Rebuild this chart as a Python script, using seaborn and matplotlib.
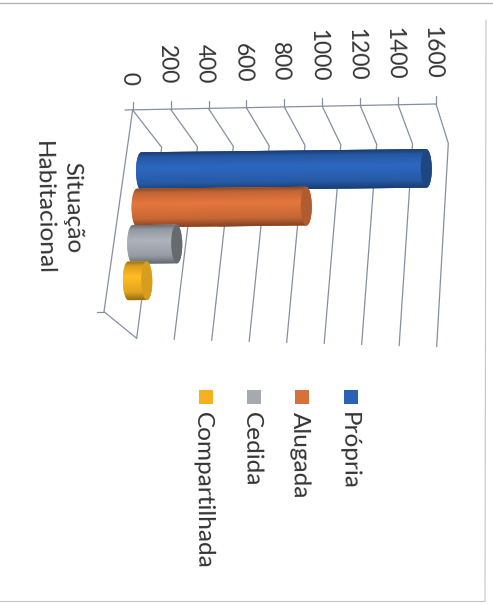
import numpy as np
import pandas as pd
import matplotlib
matplotlib.use("Agg")
import matplotlib.pyplot as plt
import seaborn as sns
from matplotlib.patches import Ellipse, Polygon, Rectangle
from matplotlib.transforms import Affine2D, ScaledTranslation, blended_transform_factory

# chart values
situacao = ["Própria", "Alugada", "Cedida", "Compartilhada"]
valores = [1560, 950, 290, 155]
cores = ["#2a62b5", "#d8703a", "#a4a9b2", "#f4b222"]
ticks = [0, 200, 400, 600, 800, 1000, 1200, 1400, 1600]
categoria = "Situação\nHabitacional"

W, H = 493, 605
X0, SCALE = 132.7, 0.1896   # pixel of value 0, pixels per unit
ROW0, ROW_STEP = 170, 36.4  # pixel of first bar, pixels between bars
LINE = "#8490a0"
TEXT = "#333333"
FONT = 17.6
CAP_DARK = [0.72, 0.82, 0.62, 0.88]

sns.set_theme(style="white")
plt.rcParams["font.family"] = ["Lato", "DejaVu Sans"]

fig = plt.figure(figsize=(W / 100, H / 100), dpi=100)
ax = fig.add_axes([0, 0, 1, 1])

df = pd.DataFrame({"situacao": situacao, "valor": valores})
sns.barplot(data=df, y="situacao", x="valor", hue="situacao", palette=cores,
            order=situacao, hue_order=situacao, dodge=False, width=1.06,
            legend=False, ax=ax)


def set_limits():
    ax.set_xlim(-X0 / SCALE, (W - X0) / SCALE)
    ax.set_ylim((H - ROW0) / ROW_STEP, -ROW0 / ROW_STEP)


set_limits()
ax.axis("off")

# pixel coords measured from the top left, like the scan
px = Affine2D().scale(1, -1).translate(0, H)
# the page was scanned slightly crooked
tilt = Affine2D().rotate_deg_around(280, 435, 0.65)
val_px = blended_transform_factory(ax.transData, px)
# rotated digits sit a bit to the right of their anchor
val_px = val_px + ScaledTranslation(-3 / 72, 0, fig.dpi_scale_trans)


def zx(z):
    return 90 + np.asarray(z) / 3


def zy(z):
    return 30 + np.asarray(z) / 3


def line(xs, ys, color=LINE, lw=0.9):
    ax.plot(xs, ys, color=color, lw=lw, transform=px, zorder=1,
            solid_capstyle="round")


# 3D frame and gridlines
for v in ticks:
    f = v / ticks[-1]
    ax_x = zx(128 + f * 910)
    ax_y = zy(240 - f * 18)
    back_x = zx(215 + f * 860)
    back_y = zy(352 - f * 12)
    low_x = zx(140 + f * 900)
    low_y = zy(925 + f * 25)
    line([ax_x, ax_x], [ax_y - 8, ax_y])
    line([ax_x, back_x, low_x], [ax_y, back_y, low_y])
    ax.text(v, 85 - f * 6, str(v), transform=val_px, rotation=-88.9,
            ha="center", va="bottom", fontsize=16.5, color=TEXT)

line(zx([105, 1038]), zy([240, 222]))
line(zx([128, 42, 140]), zy([240, 845, 925]))
line(zx([20, 42]), zy([845, 845]))

# cylinders on top of the bars seaborn drew
cap = 5.5 / SCALE
for r, p in enumerate(ax.patches):
    base = np.array(matplotlib.colors.to_rgb(cores[r]))
    value = p.get_width()
    y0, h = p.get_y(), p.get_height()
    left = (3.3 - 4.8 * r) / SCALE
    right = left + value
    trans = ax.transData + tilt

    p.set_x(left + cap)
    p.set_width(value - 2 * cap)
    p.set_transform(trans)
    p.set_zorder(3 + r)
    p.set_linewidth(0)

    t1 = np.linspace(-np.pi / 2, np.pi / 2, 40)
    t2 = t1 + np.pi
    xs = np.r_[right - cap + cap * np.cos(t1), left + cap + cap * np.cos(t2)]
    ys = np.r_[y0 + h / 2 + h / 2 * np.sin(t1), y0 + h / 2 + h / 2 * np.sin(t2)]
    shape = Polygon(np.c_[xs, ys], closed=True, transform=trans,
                    facecolor=base, edgecolor="none", zorder=3 + r)
    ax.add_patch(shape)

    # light falls off towards the edges of the cylinder
    pos = np.linspace(0, 1, 64)
    shade = np.interp(pos, [0, 0.12, 0.4, 0.8, 1], [0.62, 0.9, 1.06, 0.92, 0.62])
    img = np.clip(shade[:, None, None] * base[None, None, :], 0, 1)
    im = ax.imshow(img, extent=(left, right, y0 + h, y0), aspect="auto",
                   interpolation="bilinear", zorder=3 + r)
    im.set_transform(trans)
    im.set_clip_path(shape)

    end = Ellipse((right - cap, y0 + h / 2), 2 * cap, h, transform=trans,
                  facecolor=base * CAP_DARK[r], edgecolor="none", zorder=3.5 + r)
    ax.add_patch(end)

set_limits()

# category name
ax.text(58, 208, categoria, transform=px, rotation=-89, ha="center", va="center",
        ma="center", fontsize=FONT, color=TEXT, linespacing=1.5)

# legend
leg_x = [350.5, 302, 254, 205.5]
for name, c, lx in zip(situacao, cores, leg_x):
    ax.add_patch(Rectangle((lx - 7, 390), 14, 14, transform=px, facecolor=c,
                           edgecolor="none"))
    ax.text(lx - 2, 412, name, transform=px, rotation=-89.5, ha="center", va="top",
            fontsize=FONT, color=TEXT)

# edge of the scanned page
line([0, W], [3, 3], color="#b5b5b5", lw=1.0)
line([0, 485, 486], [601.5, 601.5, 20], color="#c4c4c4", lw=0.8)

fig.savefig("out.png", dpi=100)
